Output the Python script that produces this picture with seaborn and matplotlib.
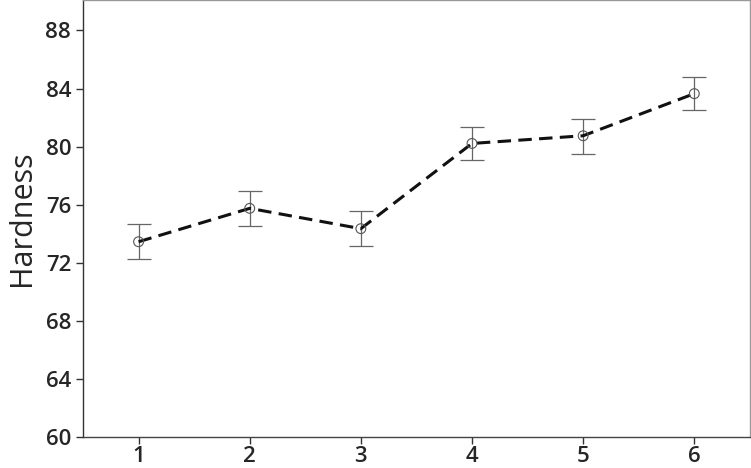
import matplotlib
matplotlib.use('Agg')
import matplotlib.pyplot as plt
import numpy as np
import pandas as pd
import seaborn as sns

# group number vs mean hardness, with +/- error
groups = [1, 2, 3, 4, 5, 6]
hardness = [73.45, 75.75, 74.35, 80.22, 80.75, 83.65]
err_low = [1.2, 1.2, 1.2, 1.15, 1.25, 1.15]
err_high = [1.2, 1.2, 1.2, 1.1, 1.15, 1.15]

sns.set_style('white')
plt.rcParams['font.family'] = ['Open Sans', 'DejaVu Sans']

df = pd.DataFrame({'group': groups, 'hardness': hardness})

fig = plt.figure(figsize=(7.51, 4.68), dpi=100)
ax = fig.add_axes([0.1105, 0.0662, 0.888, 0.9338])

ax.errorbar(groups, hardness, yerr=[err_low, err_high], fmt='none',
            ecolor='#666666', elinewidth=0.9, capsize=8.5, capthick=0.9, zorder=2)
sns.lineplot(data=df, x='group', y='hardness', ax=ax, color='#111111',
             linewidth=2.2, linestyle=(0, (4.4, 2.4)), zorder=3)
ax.scatter(groups, hardness, s=50, facecolors='none', edgecolors='#555555',
           linewidths=0.8, zorder=4)

ax.set_xlim(0.5, 6.5)
ax.set_ylim(60, 90.1)
ax.set_yticks(np.arange(60, 89, 4))
ax.set_xticks(groups)
ax.set_xlabel('')
ax.set_ylabel('Hardness', fontsize=22, labelpad=6)
ax.tick_params(axis='both', labelsize=16, length=5, width=1, color='#333333',
               direction='out', bottom=True, left=True)
ax.tick_params(axis='x', pad=1.5)
for lbl in ax.get_xticklabels() + ax.get_yticklabels():
    lbl.set_fontweight('semibold')

ax.spines['left'].set_color('#333333')
ax.spines['bottom'].set_color('#444444')
ax.spines['top'].set_color('#999999')
ax.spines['right'].set_color('#999999')
for s in ax.spines.values():
    s.set_linewidth(1.0)

fig.savefig('out.png', dpi=100)
